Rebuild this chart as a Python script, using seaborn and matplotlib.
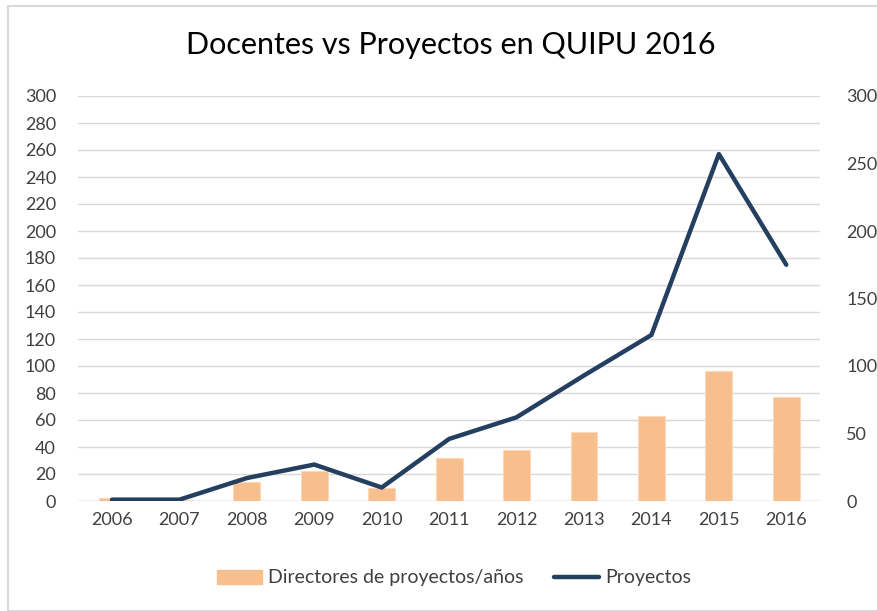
import matplotlib
matplotlib.use("Agg")
import matplotlib.pyplot as plt
import seaborn as sns
import pandas as pd
import numpy as np
from matplotlib.patches import Patch, Rectangle
from matplotlib.lines import Line2D

years = ["2006", "2007", "2008", "2009", "2010", "2011", "2012", "2013", "2014", "2015", "2016"]
directores = [2, 1, 14, 22, 10, 32, 38, 51, 63, 96, 77]
proyectos = [1, 1, 17, 27, 10, 46, 62, 93, 123, 257, 175]
left_ticks = list(range(0, 301, 20))
right_ticks = list(range(0, 301, 50))

sns.set_theme(style="white")
plt.rcParams['font.family'] = ['Lato', 'DejaVu Sans']

bar_color = "#F8BF8E"
line_color = "#243F60"
text_color = "#404040"

df = pd.DataFrame({"year": years, "directores": directores, "proyectos": proyectos})
df["pos"] = np.arange(len(df))

fig = plt.figure(figsize=(8.78, 6.11), dpi=100)
ax = fig.add_axes([78.3 / 878, 1 - 501 / 611, (820 - 78.3) / 878, (501 - 96) / 611])

sns.barplot(data=df, x="year", y="directores", color=bar_color, width=0.4,
            saturation=1, ax=ax, edgecolor="#FCD9B8", linewidth=0.8, zorder=2)
ax.set_ylim(0, 300)
ax.set_xlim(-0.5, len(years) - 0.5)
ax.set_yticks(left_ticks)
ax.yaxis.grid(True, color="#D9D9D9", linewidth=1)
ax.set_axisbelow(True)
ax.set_xlabel("")
ax.set_ylabel("")
for s in ax.spines.values():
    s.set_visible(False)
ax.tick_params(axis="both", length=0, labelsize=13, colors=text_color, pad=8)
ax.tick_params(axis="y", pad=16)
ax.axhline(0, color="#D9D9D9", linewidth=1, zorder=1)

ax2 = ax.twinx()
sns.lineplot(data=df, x="pos", y="proyectos", color=line_color, linewidth=3.2,
             ax=ax2, solid_capstyle="round", zorder=3)
ax2.set_ylim(0, 300)
ax2.set_yticks(right_ticks)
ax2.set_xlim(-0.5, len(years) - 0.5)
ax2.set_ylabel("")
ax2.set_xlabel("")
for s in ax2.spines.values():
    s.set_visible(False)
ax2.tick_params(axis="y", length=0, labelsize=13, colors=text_color, pad=19)
ax2.grid(False)

fig.text(451 / 878, 1 - 45 / 611, "Docentes vs Proyectos en QUIPU 2016",
         ha="center", va="center", fontsize=22, color="#000000")

handles = [Patch(facecolor=bar_color, edgecolor=bar_color),
           Line2D([0], [0], color=line_color, linewidth=3.2)]
fig.legend(handles, ["Directores de proyectos/años", "Proyectos"],
           loc="center", bbox_to_anchor=(454 / 878, 1 - 578 / 611), ncol=2,
           frameon=False, fontsize=14, handlelength=2.3, columnspacing=1.6,
           handletextpad=0.3, labelcolor=text_color)

fig.patches.append(Rectangle((8 / 878, 0), 1.0, 1 - 6 / 611, transform=fig.transFigure,
                             fill=False, edgecolor="#D9D9D9", linewidth=1.5))

fig.savefig("out.png", dpi=100)
